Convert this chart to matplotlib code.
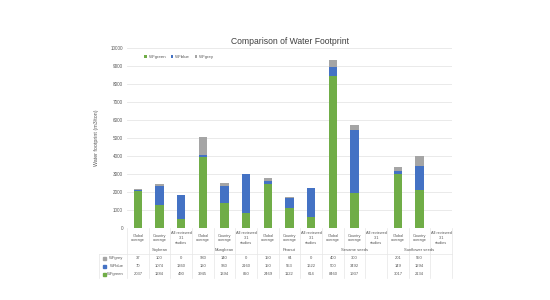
import matplotlib.pyplot as plt
import matplotlib.transforms as mtransforms
from matplotlib.patches import Rectangle

plt.rcParams['font.family'] = ['Liberation Sans', 'DejaVu Sans']

# Data
crops = ['Soybean', 'Mungbean', 'Peanut', 'Sesame seeds', 'Sunflower seeds']
sources = ['Global\naverage', 'Country\naverage', 'All reviewed\n3.1\nstudies']
wf_grey = [37, 100, 0, 980, 140, 0, 150, 64, 0, 400, 300, None, 201, 550, None]
wf_blue = [70, 1074, 1360, 120, 960, 2160, 150, 553, 1622, 500, 3492, None, 149, 1294, None]
wf_green = [2037, 1284, 490, 3945, 1394, 820, 2469, 1122, 614, 8460, 1937, None, 3017, 2134, None]

c_green = '#70AD47'
c_blue = '#4472C4'
c_grey = '#A5A5A5'
line_c = '#E6E6E6'
txt_c = '#595959'

fig = plt.figure(figsize=(5.5, 3), dpi=100)
ax = fig.add_axes([0.231, 0.24, 0.591, 0.60])

n = len(wf_green)
x = list(range(n))
g = [v or 0 for v in wf_green]
b = [v or 0 for v in wf_blue]
r = [v or 0 for v in wf_grey]
gb = [gi + bi for gi, bi in zip(g, b)]

w = 0.39
ax.bar(x, g, w, color=c_green, label='WFgreen', zorder=3)
ax.bar(x, b, w, bottom=g, color=c_blue, label='WFblue', zorder=3)
ax.bar(x, r, w, bottom=gb, color=c_grey, label='WFgrey', zorder=3)

ax.set_xlim(-0.5, n - 0.5)
ax.set_ylim(0, 10000)
ax.set_yticks(range(0, 10001, 1000))
ax.tick_params(axis='y', labelsize=3.3, colors=txt_c, length=0, pad=3)
ax.set_xticks([])
ax.grid(axis='y', color=line_c, linewidth=0.6, zorder=0)
for s in ax.spines.values():
    s.set_visible(False)
ax.axhline(0, color='#D9D9D9', linewidth=0.6, zorder=4)

ax.set_title('Comparison of Water Footprint', fontsize=6.2, color='#404040', pad=3)
ax.set_ylabel('Water footprint (m3/ton)', fontsize=3.8, color=txt_c, labelpad=8)

ax.legend(loc='upper left', bbox_to_anchor=(0.255, 0.83), bbox_transform=fig.transFigure,
          ncol=3, fontsize=3.2, frameon=False, handlelength=0.6, handleheight=0.6,
          handletextpad=0.4, columnspacing=1.0, labelcolor=txt_c)

# data table under the plot
tr = mtransforms.blended_transform_factory(ax.transData, fig.transFigure)
fy = lambda py: 1 - py / 300.0

for i in range(n):
    fig.text(i, fy(238), sources[i % 3], transform=tr, ha='center', va='center',
             fontsize=2.8, color=txt_c, linespacing=1.2)
for k, crop in enumerate(crops):
    fig.text(3 * k + 1, fy(250), crop, transform=tr, ha='center', va='center',
             fontsize=3, color=txt_c)

rows = [('WFgrey', wf_grey, c_grey, 258), ('WFblue', wf_blue, c_blue, 266),
        ('WFgreen', wf_green, c_green, 274)]
for name, vals, col, py in rows:
    for i, v in enumerate(vals):
        if v is not None:
            fig.text(i, fy(py), str(v), transform=tr, ha='center', va='center',
                     fontsize=3, color=txt_c)
    fig.text(-0.65, fy(py), name, transform=tr, ha='right', va='center',
             fontsize=3, color=txt_c)
    fig.add_artist(Rectangle((0.187, fy(py) - 0.006), 0.006, 0.011,
                             color=col, transform=fig.transFigure))

# table grid lines
for i in range(n + 1):
    xe = i - 0.5
    fig.add_artist(plt.Line2D([xe, xe], [fy(228), fy(278)], transform=tr,
                              color=line_c, linewidth=0.5))
fig.add_artist(plt.Line2D([0.18, 0.822], [fy(254), fy(254)], transform=fig.transFigure,
                          color=line_c, linewidth=0.5))
fig.add_artist(plt.Line2D([0.18, 0.18], [fy(254), fy(278)], transform=fig.transFigure,
                          color=line_c, linewidth=0.5))

fig.savefig('out.png', dpi=100)
